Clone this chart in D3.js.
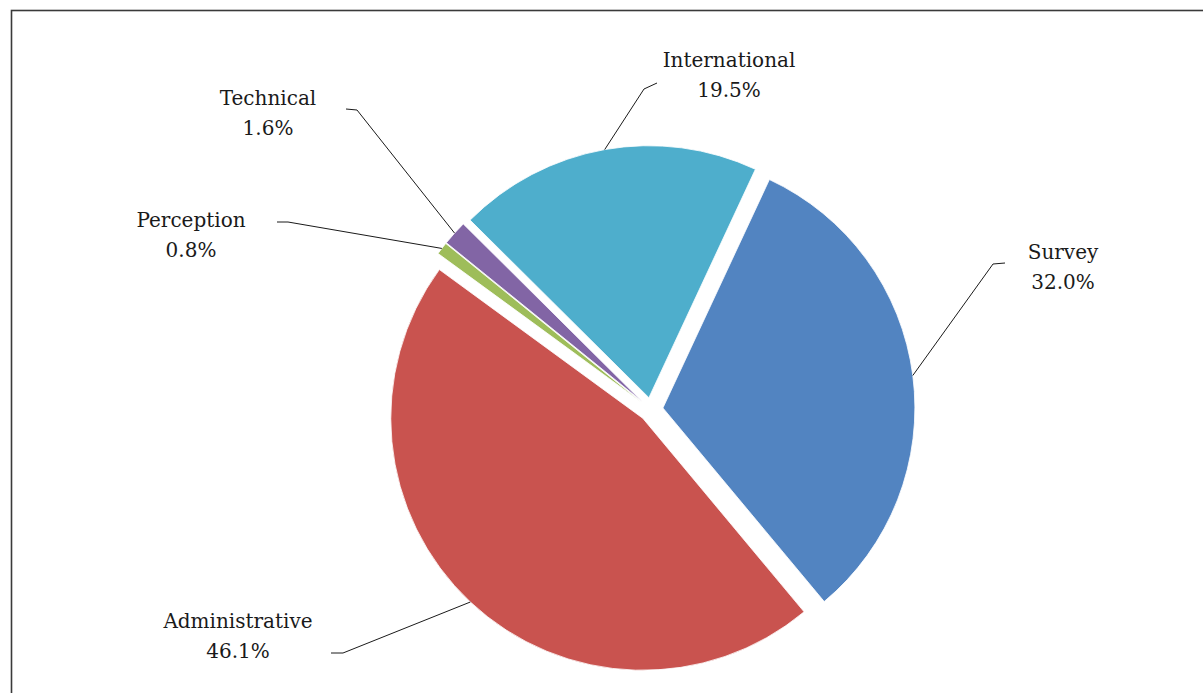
<!DOCTYPE html>
<html>
<head>
<meta charset="utf-8">
<script src="https://cdn.jsdelivr.net/npm/d3@7"></script>
<style>
  body { margin: 0; background: #fff; }
  svg { display: block; }
</style>
</head>
<body>
<svg id="chart" width="1203" height="693"></svg>
<script>
// slices, in the order the spreadsheet draws them (clockwise)
const categories = ["Survey", "Administrative", "Perception", "Technical", "International"];
const shares = [32.0, 46.1, 0.8, 1.6, 19.5];
const sliceColors = ["#5284c1", "#c9534f", "#9ebd5a", "#8265a5", "#4eaecc"];

// where each label sits (label centre x, first baseline y) and the leader elbow
const labelX = [1063, 238, 191, 268, 729];
const labelY = [259, 628, 227, 105, 67];
const elbow = [[993, 264], [343, 653], [288, 222], [357, 110], [644, 89]];
const stubEnd = [[1005, 263], [331, 653], [277, 222], [346, 109], [657, 83]];

const W = 1203, H = 693;
const CX = 651, CY = 409.5;
const R = 252;
const EXPLODE = 12;
const START = 25 * Math.PI / 180;

const svg = d3.select("#chart");

// chart frame (runs off the right and bottom edges)
svg.append("rect")
  .attr("x", 11.5).attr("y", 10.5)
  .attr("width", 1300).attr("height", 800)
  .attr("fill", "none")
  .attr("stroke", "#3a3a3a")
  .attr("stroke-width", 1.6);

const pie = d3.pie()
  .sort(null)
  .value(d => d)
  .startAngle(START)
  .endAngle(START + 2 * Math.PI);

const arcs = pie(shares);
const arc = d3.arc().innerRadius(0).outerRadius(R);

function offset(a, r) {
  const m = (a.startAngle + a.endAngle) / 2;
  return [Math.sin(m) * r, -Math.cos(m) * r];
}

const g = svg.append("g").attr("transform", `translate(${CX},${CY})`);

g.selectAll("path.slice")
  .data(arcs)
  .join("path")
  .attr("class", "slice")
  .attr("d", arc)
  .attr("transform", d => {
    const o = offset(d, EXPLODE);
    return `translate(${o[0]},${o[1]})`;
  })
  .attr("fill", (d, i) => sliceColors[i])
  .attr("stroke", "#fff")
  .attr("stroke-width", 0.8);

// leader lines: from the outer edge of the slice, through the elbow, to the label
const line = d3.line();
svg.selectAll("path.leader")
  .data(arcs)
  .join("path")
  .attr("class", "leader")
  .attr("d", (d, i) => {
    const o = offset(d, R + EXPLODE);
    return line([[CX + o[0], CY + o[1]], elbow[i], stubEnd[i]]);
  })
  .attr("fill", "none")
  .attr("stroke", "#1a1a1a")
  .attr("stroke-width", 1);

const labels = svg.selectAll("text.lbl")
  .data(arcs)
  .join("text")
  .attr("class", "lbl")
  .attr("text-anchor", "middle")
  .attr("font-family", "'DejaVu Serif', serif")
  .attr("font-size", 20)
  .attr("fill", "#1a1a1a");

labels.append("tspan")
  .attr("x", (d, i) => labelX[i])
  .attr("y", (d, i) => labelY[i])
  .text((d, i) => categories[i]);

labels.append("tspan")
  .attr("x", (d, i) => labelX[i])
  .attr("y", (d, i) => labelY[i] + 29.5)
  .text(d => d3.format(".1f")(d.data) + "%");
</script>
</body>
</html>
